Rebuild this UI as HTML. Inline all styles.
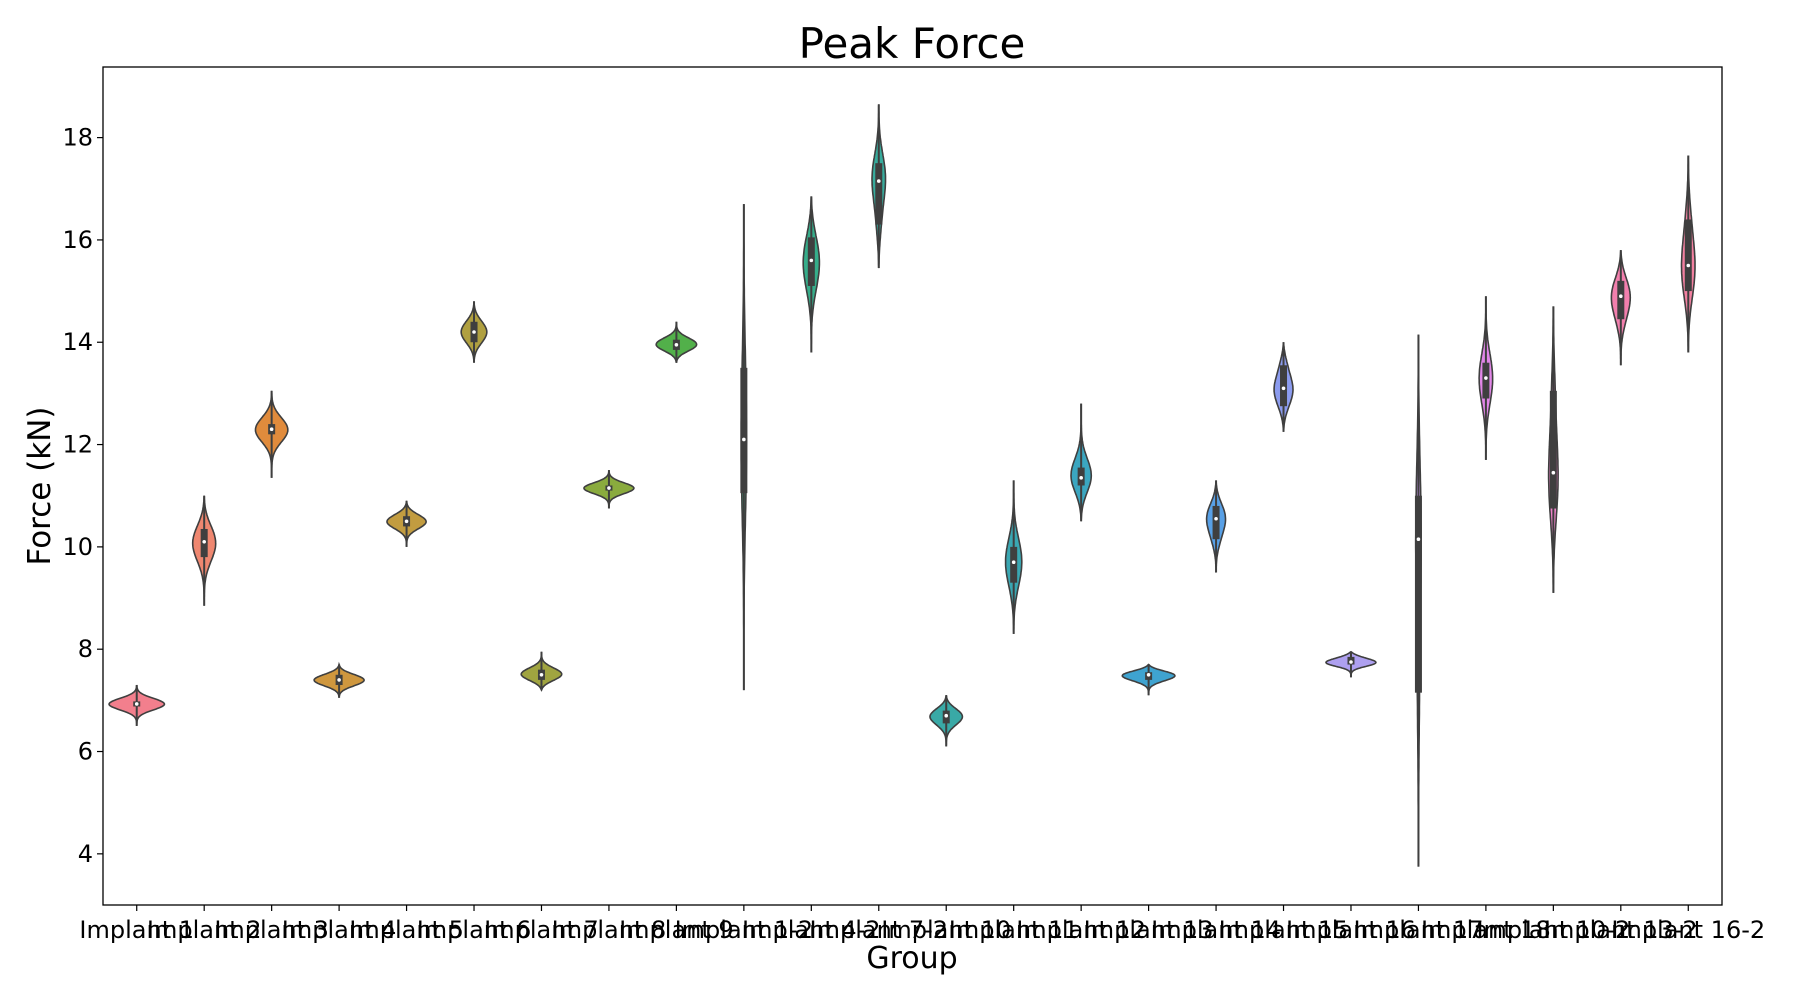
<!DOCTYPE html>
<html><head><meta charset="utf-8"><style>
html,body{margin:0;padding:0;background:#fff;}
svg{display:block;font-family:"DejaVu Sans","Liberation Sans",sans-serif;}
</style></head><body>
<svg id="chart" width="1800" height="1000" viewBox="0 0 1800 1000">
<text x="912" y="58" font-size="42" text-anchor="middle">Peak Force</text>
<text x="912" y="968" font-size="30" text-anchor="middle">Group</text>
<text transform="translate(50,486) rotate(-90)" font-size="31" text-anchor="middle">Force (kN)</text>
<g id="plot"></g>
</svg>
<script>
const categories = ["Implant 1","Implant 2","Implant 3","Implant 4","Implant 5","Implant 6","Implant 7","Implant 8","Implant 9","Implant 1-2","Implant 4-2","Implant 7-2","Implant 10","Implant 11","Implant 12","Implant 13","Implant 14","Implant 15","Implant 16","Implant 17","Implant 18","Implant 10-2","Implant 13-2","Implant 16-2"];
const minVals = [6.5,8.85,11.35,7.05,10.0,13.6,7.2,10.75,13.6,7.2,13.8,15.45,6.1,8.3,10.5,7.1,9.5,12.25,7.45,3.75,11.7,9.1,13.55,13.8];
const q1Vals = [6.88,9.8,12.2,7.3,10.4,14.0,7.4,11.1,13.85,11.05,15.1,16.3,6.55,9.3,11.2,7.4,10.15,12.75,7.7,7.15,12.9,10.75,14.45,15.0];
const medianVals = [6.93,10.1,12.3,7.4,10.5,14.2,7.5,11.15,13.95,12.1,15.6,17.15,6.7,9.7,11.35,7.5,10.55,13.1,7.75,10.15,13.3,11.45,14.9,15.5];
const q3Vals = [6.98,10.35,12.4,7.5,10.6,14.4,7.6,11.2,14.05,13.5,16.05,17.5,6.8,10.0,11.55,7.55,10.8,13.55,7.85,11.0,13.6,13.05,15.2,16.4];
const maxVals = [7.3,11.0,13.05,7.7,10.9,14.8,7.95,11.5,14.4,16.7,16.85,18.65,7.1,11.3,12.8,7.7,11.3,14.0,7.95,14.15,14.9,14.7,15.8,17.65];
const halfWidths = [0.41,0.17,0.24,0.37,0.29,0.19,0.3,0.37,0.3,0.04,0.12,0.1,0.24,0.12,0.15,0.39,0.14,0.14,0.37,0.04,0.1,0.07,0.14,0.1];
const colors = ["#f27f8d","#ef8770","#e08b3c","#cf973e","#c29c40","#b0a040","#a0a440","#8aab3e","#52b04a","#3cae7c","#36ad8a","#37ab9c","#39a9a6","#3aa7b2","#3ba6c0","#3fa3d0","#58a0e6","#8c9cef","#aea0f0","#c896ef","#e286e8","#ee82c9","#f27fad","#f280a0"];
const yTicks = [4,6,8,10,12,14,16,18];

const L=103,R=1722,T=67,B=905,yMin=3.0,yMax=19.38;
const n=categories.length, step=(R-L)/n;
const xs=i=>L+(i+0.5)*step;
const ys=v=>B-(v-yMin)/(yMax-yMin)*(B-T);
const NS="http://www.w3.org/2000/svg";
const g=document.getElementById('plot');
function mk(tag,attrs,parent){const e=document.createElementNS(NS,tag);for(const k in attrs)e.setAttribute(k,attrs[k]);(parent||g).appendChild(e);return e;}

const frame=mk('rect',{x:L,y:T,width:R-L,height:B-T,fill:'none',stroke:'#000','stroke-width':1.3});



yTicks.forEach(v=>{
  const t=mk('line',{x1:L-6,x2:L,y1:ys(v),y2:ys(v),stroke:'#000','stroke-width':1.2});
  
  
  const lb=mk('text',{x:L-10,y:ys(v)+8,'font-size':24,'text-anchor':'end'});
  lb.textContent=v;
  
  
});

categories.forEach((c,i)=>{
  const x=xs(i);
  const t=mk('line',{x1:x,x2:x,y1:B,y2:B+6,stroke:'#000','stroke-width':1.2});
  
  
  const lb=mk('text',{x:x,y:B+33,'font-size':24,'text-anchor':'middle'});
  lb.textContent=c;
  
  

  const mn=minVals[i],mx=maxVals[i],q1=q1Vals[i],md=medianVals[i],q3=q3Vals[i];
  const sig=Math.max((mx-mn)/7,0.02);
  const centers=[q1,md,md,q3];
  const dens=y=>{let s=0;centers.forEach(c=>{s+=Math.exp(-0.5*((y-c)/sig)**2);});return s;};
  const N=80;let peak=0,vals=[];
  for(let k=0;k<=N;k++){const y=mn+(mx-mn)*k/N;const tp=Math.sin(Math.PI*k/N);const d=dens(y)*Math.pow(tp,0.6);vals.push([y,d]);if(d>peak)peak=d;}
  const hw=halfWidths[i]*step;
  let right=vals.map(([y,d])=>[x+d/peak*hw,ys(y)]);
  let left=vals.slice().reverse().map(([y,d])=>[x-d/peak*hw,ys(y)]);
  const d='M'+right.concat(left).map(p=>p[0].toFixed(1)+','+p[1].toFixed(1)).join('L')+'Z';
  const grp=mk('g',{});
  
  
  const v=mk('path',{d:d,fill:colors[i],stroke:'#3f3f3f','stroke-width':1.6},grp);
  
  
  const w=mk('line',{x1:x,x2:x,y1:ys(mn),y2:ys(mx),stroke:'#3f3f3f','stroke-width':2},grp);
  
  
  const bx=mk('rect',{x:x-3.5,y:ys(q3),width:7,height:Math.max(ys(q1)-ys(q3),1),fill:'#3f3f3f'},grp);
  
  
  const m=mk('circle',{cx:x,cy:ys(md),r:1.8,fill:'#fff'},grp);
  
  
});
</script>
</body></html>
